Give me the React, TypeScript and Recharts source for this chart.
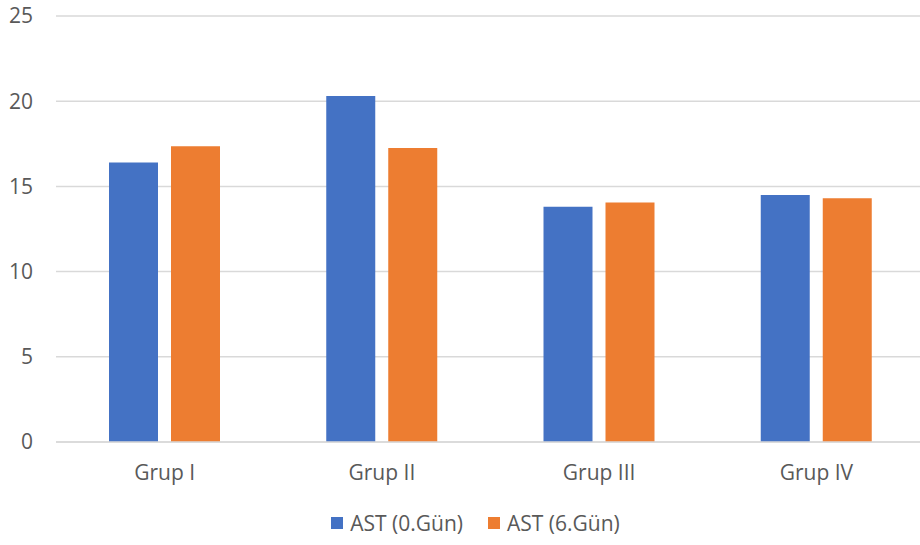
import React from "react";
import { BarChart, Bar, XAxis, YAxis, CartesianGrid, Legend } from "recharts";

const groups = ["Grup I", "Grup II", "Grup III", "Grup IV"];
const astDay0 = [16.4, 20.3, 13.8, 14.5];
const astDay6 = [17.35, 17.25, 14.05, 14.3];
const yTicks = [0, 5, 10, 15, 20, 25];

const seriesNames = ["AST (0.Gün)", "AST (6.Gün)"];
const BLUE = "#4472C4";
const ORANGE = "#ED7D31";
const TEXT = "#595959";
const GRID = "#d9d9d9";
const FONT = "'Open Sans', sans-serif";

const data = groups.map((g, i) => ({
  name: g,
  day0: astDay0[i],
  day6: astDay6[i],
}));

function LegendBox() {
  const items = [
    { label: seriesNames[0], color: BLUE },
    { label: seriesNames[1], color: ORANGE },
  ];
  return (
    <div
      style={{
        height: 63,
        display: "flex",
        justifyContent: "center",
        alignItems: "flex-start",
        paddingTop: 29,
        boxSizing: "border-box",
        fontFamily: FONT,
        fontSize: 21,
        color: TEXT,
        paddingLeft: 26,
      }}
    >
      {items.map((it, i) => (
        <div
          key={it.label}
          style={{
            display: "flex",
            alignItems: "center",
            marginRight: i === 0 ? 25 : 0,
            lineHeight: "24px",
          }}
        >
          <span
            style={{
              width: 12,
              height: 12,
              background: it.color,
              display: "inline-block",
              marginRight: 7,
            }}
          />
          <span>{it.label}</span>
        </div>
      ))}
    </div>
  );
}

export default function App() {
  return (
    <div style={{ position: "absolute", left: 0, top: 0, background: "#fff" }}>
      <BarChart
        width={920}
        height={545}
        data={data}
        margin={{ top: 16, right: -5, left: 0, bottom: 0 }}
        barSize={49}
        barGap={13}
      >
        <CartesianGrid vertical={false} stroke={GRID} strokeWidth={1.5} />
        <XAxis
          dataKey="name"
          height={40}
          tickLine={false}
          axisLine={{ stroke: GRID, strokeWidth: 1.5 }}
          tickMargin={17}
          tick={{ fill: TEXT, fontSize: 21, fontFamily: FONT }}
        />
        <YAxis
          width={56}
          domain={[0, 25]}
          ticks={yTicks}
          interval={0}
          tickLine={false}
          axisLine={false}
          tickMargin={17}
          tick={{ fill: TEXT, fontSize: 21, fontFamily: FONT }}
        />
        <Legend verticalAlign="bottom" content={() => <LegendBox />} />
        <Bar dataKey="day0" name={seriesNames[0]} fill={BLUE} isAnimationActive={false} />
        <Bar dataKey="day6" name={seriesNames[1]} fill={ORANGE} isAnimationActive={false} />
      </BarChart>
    </div>
  );
}
